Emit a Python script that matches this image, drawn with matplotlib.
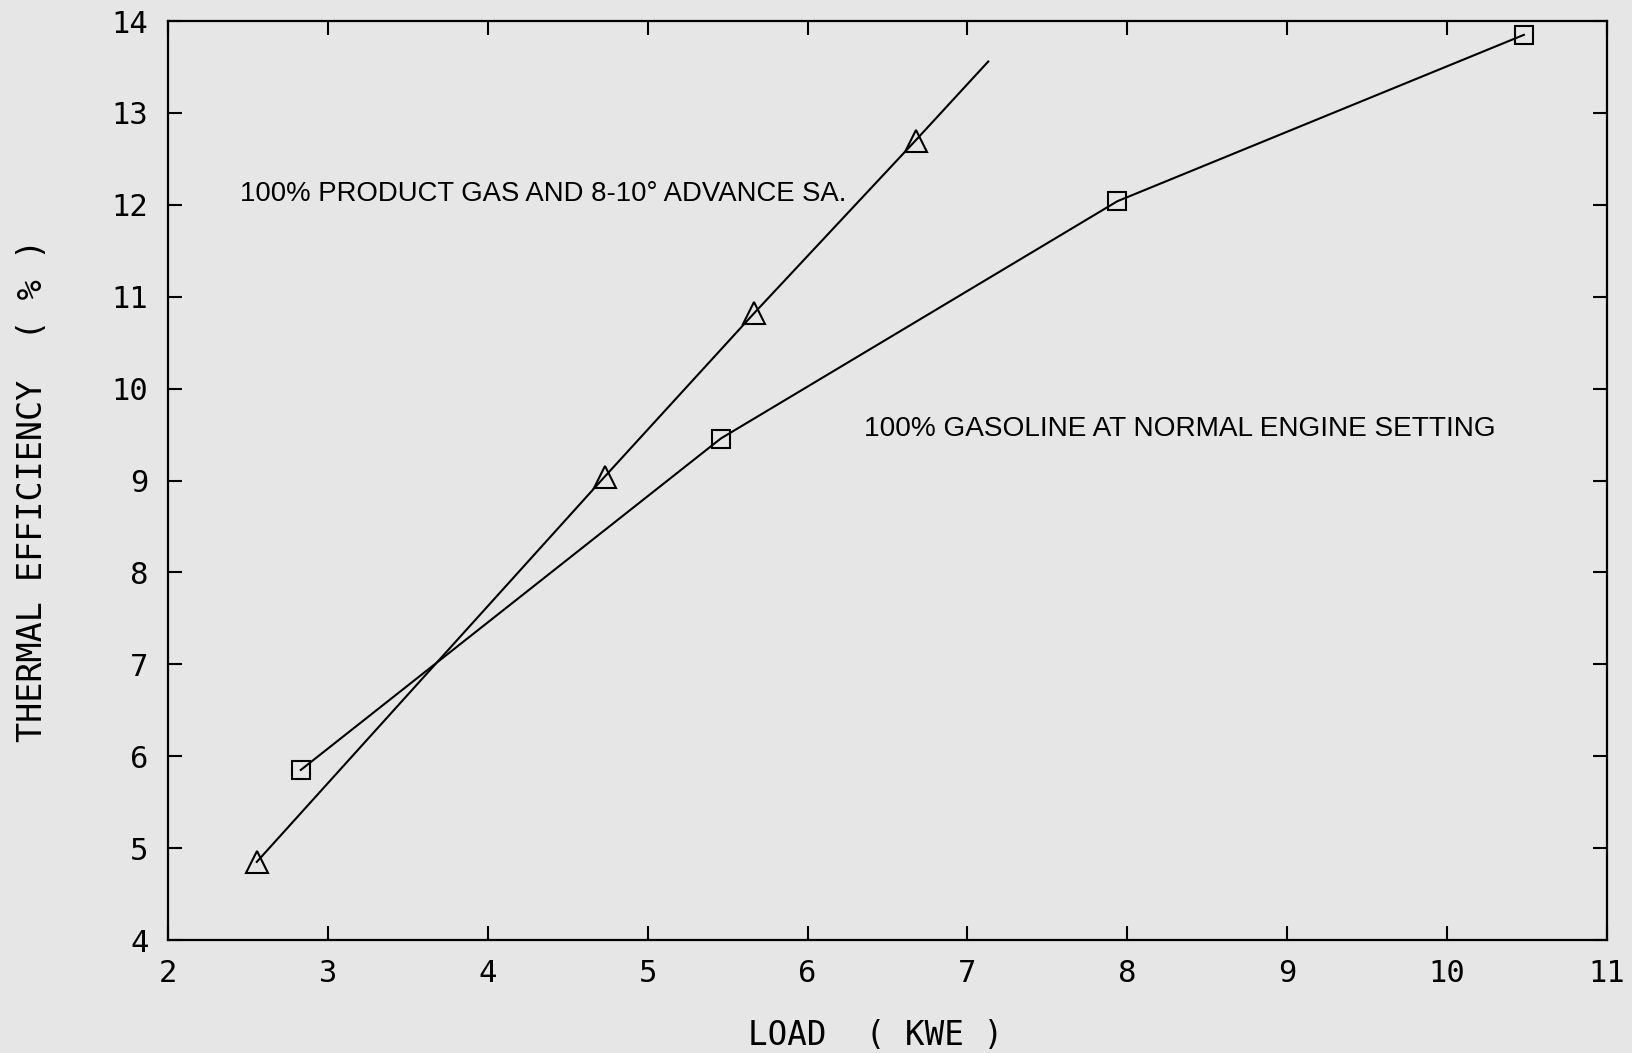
import matplotlib.pyplot as plt

# product gas run (triangles), line carried on past the last point
gas_load = [2.555, 4.73, 5.665, 6.675]
gas_eff = [4.85, 9.04, 10.82, 12.70]
gas_line_end = (7.13, 13.56)

# gasoline run (squares)
petrol_load = [2.83, 5.457, 7.938, 10.48]
petrol_eff = [5.85, 9.457, 12.04, 13.85]

x_ticks = [2, 3, 4, 5, 6, 7, 8, 9, 10, 11]
y_ticks = [4, 5, 6, 7, 8, 9, 10, 11, 12, 13, 14]

bg = '#e6e6e6'
mono = 'DejaVu Sans Mono'

fig = plt.figure(figsize=(16.33, 10.53), dpi=100, facecolor=bg)
ax = fig.add_axes([0.1029, 0.1073, 0.8812, 0.8727], facecolor=bg)

ax.plot(gas_load + [gas_line_end[0]], gas_eff + [gas_line_end[1]], color='black', lw=1.5)
ax.plot(gas_load, gas_eff, linestyle='none', marker='^', ms=16, mfc='none', mec='black', mew=1.5)
ax.plot(petrol_load, petrol_eff, color='black', lw=1.5, marker='s', ms=13,
        mfc='none', mec='black', mew=1.5)

ax.set_xlim(2, 11)
ax.set_ylim(4, 14)
ax.set_xticks(x_ticks)
ax.set_yticks(y_ticks)
ax.tick_params(direction='in', length=10, width=1.5, top=True, right=True,
               labelsize=22, pad=14)
for lbl in ax.get_xticklabels() + ax.get_yticklabels():
    lbl.set_family(mono)
for s in ax.spines.values():
    s.set_linewidth(1.6)

ax.set_xlabel('LOAD  ( KWE )', family=mono, fontsize=23.5, va='center')
ax.set_ylabel('THERMAL EFFICIENCY  ( % )', family=mono, fontsize=24, va='center')
ax.xaxis.set_label_coords(0.492, -0.104)
ax.yaxis.set_label_coords(-0.094, 0.489)

ax.text(2.447, 12.12, '100% PRODUCT GAS AND 8-10° ADVANCE SA.', family='Liberation Sans',
        fontsize=19.8, va='center', ha='left')
ax.text(6.35, 9.56, '100% GASOLINE AT NORMAL ENGINE SETTING', family='Liberation Sans',
        fontsize=20.2, va='center', ha='left')

fig.savefig('out.png', dpi=100, facecolor=bg)
